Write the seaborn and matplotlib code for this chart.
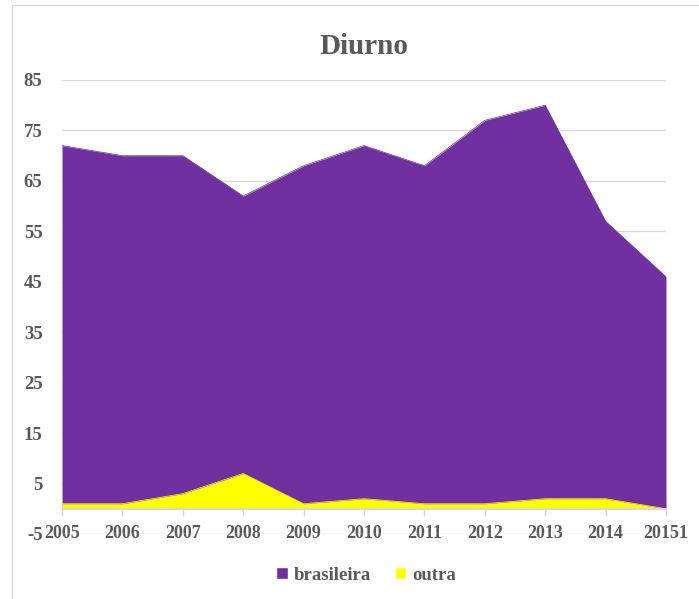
import matplotlib
matplotlib.use("Agg")
import matplotlib.pyplot as plt
from matplotlib.patches import Patch
from matplotlib.lines import Line2D
import seaborn as sns
import pandas as pd

# Data
years = [2005, 2006, 2007, 2008, 2009, 2010, 2011, 2012, 2013, 2014, 2015]
year_labels = ["2005", "2006", "2007", "2008", "2009", "2010", "2011",
               "2012", "2013", "2014", "20151"]
brasileira = [72, 70, 70, 62, 68, 72, 68, 77, 80, 57, 46]
outra = [1, 1, 3, 7, 1, 2, 1, 1, 2, 2, 0]
y_ticks = [-5, 5, 15, 25, 35, 45, 55, 65, 75, 85]

PURPLE = "#7030A0"
YELLOW = "#FFFF00"
GRID = "#D9D9D9"
TEXT = "#595959"

df = pd.DataFrame({"ano": years, "brasileira": brasileira, "outra": outra})

sns.set_theme(style="white")
plt.rcParams["font.family"] = ["Liberation Serif", "DejaVu Serif"]
plt.rcParams["font.weight"] = "bold"

fig = plt.figure(figsize=(6.99, 5.99), dpi=100)
ax = fig.add_axes([62 / 699, 1 - 534 / 599, 604 / 699, 454 / 599])

# Overlapping areas, second series in front
ax.fill_between(df["ano"], 0, df["brasileira"], color=PURPLE, linewidth=0, zorder=2)
ax.fill_between(df["ano"], 0, df["outra"], color=YELLOW, linewidth=0, zorder=3)
sns.lineplot(data=df, x="ano", y="brasileira", ax=ax, color=PURPLE, linewidth=0.5, zorder=2)
sns.lineplot(data=df, x="ano", y="outra", ax=ax, color=YELLOW, linewidth=0.5, zorder=3)

ax.set_xlim(years[0], years[-1])
ax.set_ylim(-5, 85)
ax.set_yticks(y_ticks)
ax.set_yticklabels([str(t) for t in y_ticks])
ax.set_xticks(years)
ax.set_xticklabels(year_labels)
ax.set_xlabel("")
ax.set_ylabel("")

ax.yaxis.grid(True, color=GRID, linewidth=1)
ax.set_axisbelow(True)
for s in ["top", "right", "left"]:
    ax.spines[s].set_visible(False)
ax.spines["bottom"].set_position(("data", 0))
ax.spines["bottom"].set_color(GRID)
ax.spines["bottom"].set_zorder(4)

ax.tick_params(axis="y", length=0, pad=14, labelsize=13.5, labelcolor=TEXT)
ax.tick_params(axis="x", direction="out", length=5, width=1, color=GRID,
               pad=7, labelsize=13, labelcolor=TEXT, bottom=True)
for lbl in ax.get_xticklabels() + ax.get_yticklabels():
    lbl.set_fontweight("bold")

ax.set_title("Diurno", fontsize=21, fontweight="bold", color=TEXT, pad=19)

handles = [Patch(facecolor=PURPLE, label="brasileira"),
           Patch(facecolor=YELLOW, label="outra")]
fig.legend(handles=handles, loc="center", bbox_to_anchor=(366 / 699, 1 - 575 / 599),
           ncol=2, frameon=False, handlelength=0.6, handleheight=0.6,
           handletextpad=0.3, columnspacing=1.3,
           prop={"family": "Liberation Serif", "weight": "bold", "size": 13.5},
           labelcolor=TEXT)

# Chart border
fig.add_artist(Line2D([12 / 699, 12 / 699], [0, 1 - 4.5 / 599], transform=fig.transFigure,
                      color=GRID, linewidth=1))
fig.add_artist(Line2D([12 / 699, 1], [1 - 4.5 / 599, 1 - 4.5 / 599], transform=fig.transFigure,
                      color=GRID, linewidth=1))

fig.savefig("out.png", dpi=100, facecolor="white")
